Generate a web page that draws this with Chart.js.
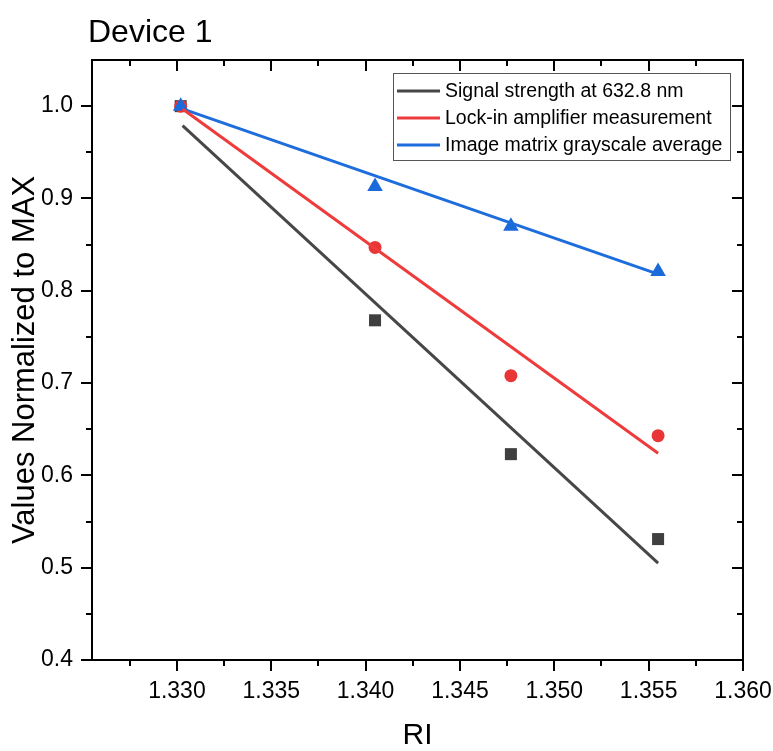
<!DOCTYPE html>
<html>
<head>
<meta charset="utf-8">
<script src="https://cdn.jsdelivr.net/npm/chart.js@4/dist/chart.umd.min.js"></script>
<style>
  html, body { margin: 0; padding: 0; background: #fff; }
  #wrap { width: 773px; height: 751px; position: relative; }
</style>
</head>
<body>
<div id="wrap"><canvas id="chart" width="773" height="751"></canvas></div>
<script>
// Data
const riValues = [1.3302, 1.3405, 1.3477, 1.3555];
const signalStrength = [1.000, 0.768, 0.623, 0.531];
const lockIn = [1.000, 0.847, 0.708, 0.643];
const grayscale = [1.000, 0.913, 0.870, 0.821];

// Linear fit lines (end points)
const fitX = [1.3303, 1.3555];
const signalFit = [0.979, 0.505];
const lockInFit = [0.997, 0.624];
const grayscaleFit = [0.997, 0.818];

const seriesLabels = ['Signal strength at 632.8 nm', 'Lock-in amplifier measurement', 'Image matrix grayscale average'];

const xTicks = [1.330, 1.335, 1.340, 1.345, 1.350, 1.355, 1.360];
const xMinorTicks = [1.3275, 1.3325, 1.3375, 1.3425, 1.3475, 1.3525, 1.3575];
const yTicks = [0.4, 0.5, 0.6, 0.7, 0.8, 0.9, 1.0];
const yMinorTicks = [0.45, 0.55, 0.65, 0.75, 0.85, 0.95];

const FONT = "'Liberation Sans', Arial, sans-serif";
const colBlack = '#474747';
const colRed = '#ee3b3b';
const colBlue = '#1d6ddc';

const pts = (xs, ys) => xs.map((x, i) => ({ x: x, y: ys[i] }));

// box, ticks on all four sides, title and legend
const framePlugin = {
    id: 'frame',
    afterDraw(chart) {
        const { ctx, chartArea: a, scales } = chart;
        const xs = scales.x, ys = scales.y;
        ctx.save();
        ctx.strokeStyle = '#000';
        ctx.lineWidth = 2;
        ctx.strokeRect(a.left, a.top, a.right - a.left, a.bottom - a.top);

        ctx.beginPath();
        const xTick = (v, len) => {
            const px = Math.round(xs.getPixelForValue(v));
            ctx.moveTo(px, a.bottom); ctx.lineTo(px, a.bottom + len);
            ctx.moveTo(px, a.top); ctx.lineTo(px, a.top + len);
        };
        const yTick = (v, len) => {
            const py = Math.round(ys.getPixelForValue(v));
            ctx.moveTo(a.left, py); ctx.lineTo(a.left - len, py);
            ctx.moveTo(a.right, py); ctx.lineTo(a.right - len, py);
        };
        xTicks.forEach(v => xTick(v, 11));
        xMinorTicks.forEach(v => xTick(v, 6));
        yTicks.forEach(v => yTick(v, 11));
        yMinorTicks.forEach(v => yTick(v, 6));
        ctx.stroke();

        // title
        ctx.fillStyle = '#000';
        ctx.font = '32px ' + FONT;
        ctx.textAlign = 'left';
        ctx.textBaseline = 'alphabetic';
        ctx.fillText('Device 1', a.left - 4, 42);

        // legend box
        const lx = 393, ly = 73, lw = 337, lh = 87;
        ctx.fillStyle = '#fff';
        ctx.fillRect(lx, ly, lw, lh);
        ctx.lineWidth = 1;
        ctx.strokeStyle = '#555';
        ctx.strokeRect(lx + 0.5, ly + 0.5, lw, lh);
        ctx.font = '19.5px ' + FONT;
        ctx.textBaseline = 'middle';
        const lineDs = chart.data.datasets.filter(d => d.isFit);
        lineDs.forEach((d, i) => {
            const cy = ly + 18 + i * 27;
            ctx.strokeStyle = d.borderColor;
            ctx.lineWidth = 3;
            ctx.beginPath();
            ctx.moveTo(lx + 4, cy); ctx.lineTo(lx + 47, cy);
            ctx.stroke();
            ctx.fillStyle = '#000';
            ctx.fillText(d.label, lx + 52, cy + 1);
        });
        ctx.restore();
    }
};

const ctx = document.getElementById('chart').getContext('2d');
const chart = new Chart(ctx, {
    type: 'scatter',
    data: {
        datasets: [
            { label: seriesLabels[0], isFit: true, data: pts(fitX, signalFit), showLine: true, borderColor: colBlack, borderWidth: 3, pointRadius: 0, order: 1 },
            { label: seriesLabels[1], isFit: true, data: pts(fitX, lockInFit), showLine: true, borderColor: colRed, borderWidth: 3, pointRadius: 0, order: 1 },
            { label: seriesLabels[2], isFit: true, data: pts(fitX, grayscaleFit), showLine: true, borderColor: colBlue, borderWidth: 3, pointRadius: 0, order: 1 },
            { label: 'sig', data: pts(riValues, signalStrength), pointStyle: 'rect', pointRadius: 8.5, backgroundColor: '#3f3f3f', borderWidth: 0, order: 4 },
            { label: 'lock', data: pts(riValues, lockIn), pointStyle: 'circle', pointRadius: 6.5, backgroundColor: '#e83636', borderWidth: 0, order: 3 },
            { label: 'gray', data: pts(riValues, grayscale), pointStyle: 'triangle', pointRadius: 9, backgroundColor: '#1a6ad9', borderWidth: 0, order: 2 }
        ]
    },
    options: {
        responsive: false,
        animation: false,
        layout: { padding: { top: 60, right: 30, left: 0, bottom: 0 } },
        plugins: {
            legend: { display: false },
            tooltip: { enabled: false },
            title: { display: false }
        },
        scales: {
            x: {
                type: 'linear',
                min: 1.3255,
                max: 1.360,
                afterFit: s => { s.height = 91; s.paddingLeft = 0; s.paddingRight = 0; },
                afterBuildTicks: s => { s.ticks = xTicks.map(v => ({ value: v })); },
                grid: { display: false, drawTicks: false },
                border: { display: false },
                ticks: {
                    autoSkip: false, maxRotation: 0, padding: 18, color: '#000',
                    font: { family: FONT, size: 23 },
                    callback: v => v.toFixed(3)
                },
                title: {
                    display: true, text: 'RI', color: '#000',
                    font: { family: FONT, size: 30, lineHeight: 1 },
                    padding: { top: 0, bottom: 0 }
                }
            },
            y: {
                type: 'linear',
                min: 0.4,
                max: 1.05,
                afterFit: s => { s.width = 92; s.paddingTop = 0; s.paddingBottom = 0; },
                afterBuildTicks: s => { s.ticks = yTicks.map(v => ({ value: v })); },
                grid: { display: false, drawTicks: false },
                border: { display: false },
                ticks: {
                    padding: 19, color: '#000',
                    font: { family: FONT, size: 23 },
                    callback: v => v.toFixed(1)
                },
                title: {
                    display: true, text: 'Values Normalized to MAX', color: '#000',
                    font: { family: FONT, size: 31, lineHeight: 1 },
                    padding: { top: 10, bottom: 0 }
                }
            }
        }
    },
    plugins: [framePlugin]
});
</script>
</body>
</html>
